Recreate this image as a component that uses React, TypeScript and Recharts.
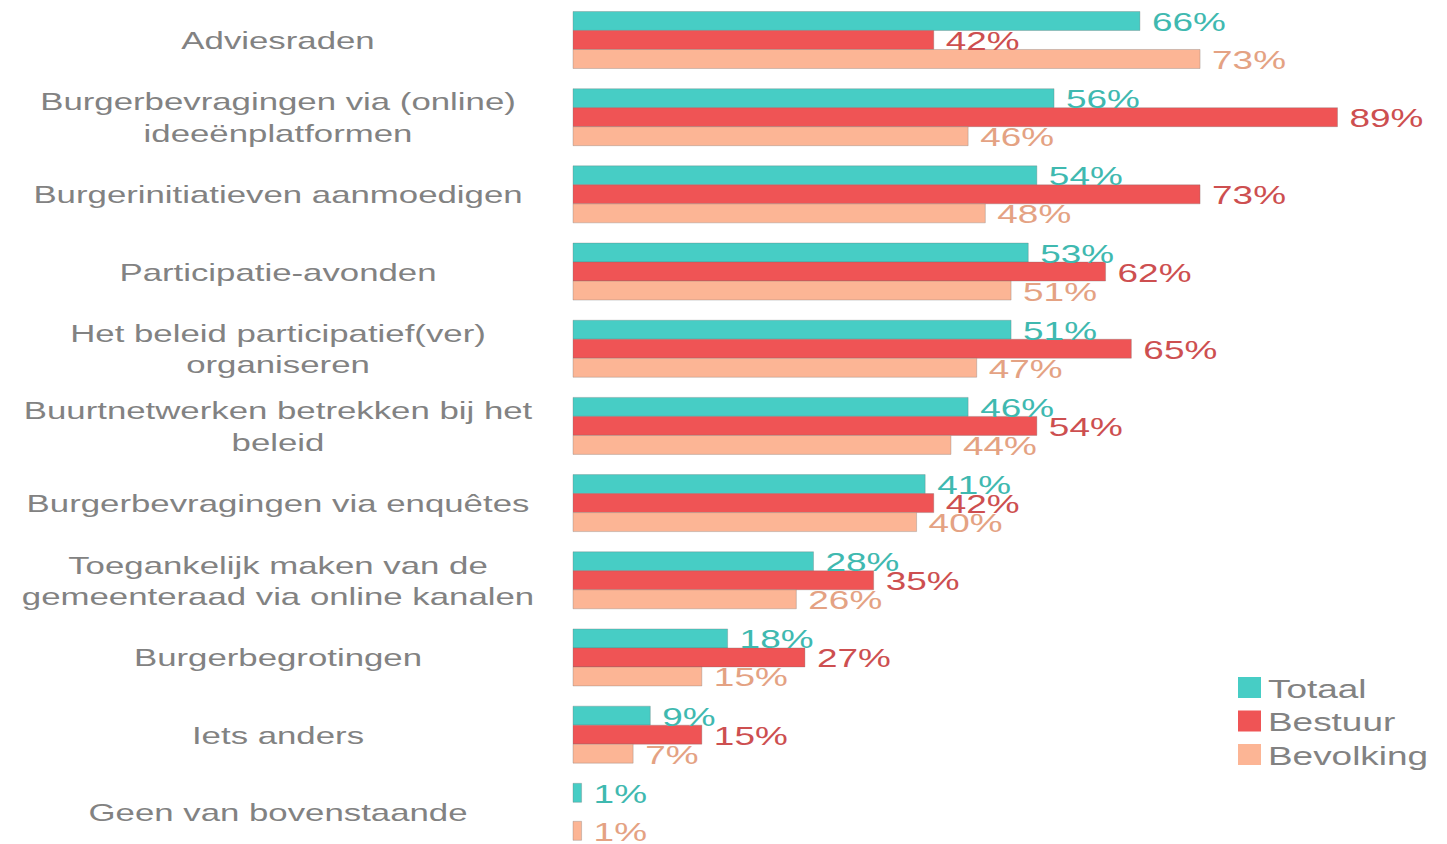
import React from "react";
import { BarChart, Bar, XAxis, YAxis, LabelList } from "recharts";

const categories = [
  "Adviesraden",
  "Burgerbevragingen via (online) ideeënplatformen",
  "Burgerinitiatieven aanmoedigen",
  "Participatie-avonden",
  "Het beleid participatief(ver) organiseren",
  "Buurtnetwerken betrekken bij het beleid",
  "Burgerbevragingen via enquêtes",
  "Toegankelijk maken van de gemeenteraad via online kanalen",
  "Burgerbegrotingen",
  "Iets anders",
  "Geen van bovenstaande",
];

const categoryLines: string[][] = [
  ["Adviesraden"],
  ["Burgerbevragingen via (online)", "ideeënplatformen"],
  ["Burgerinitiatieven aanmoedigen"],
  ["Participatie-avonden"],
  ["Het beleid participatief(ver)", "organiseren"],
  ["Buurtnetwerken betrekken bij het", "beleid"],
  ["Burgerbevragingen via enquêtes"],
  ["Toegankelijk maken van de", "gemeenteraad via online kanalen"],
  ["Burgerbegrotingen"],
  ["Iets anders"],
  ["Geen van bovenstaande"],
];

const totaal = [66, 56, 54, 53, 51, 46, 41, 28, 18, 9, 1];
const bestuur = [42, 89, 73, 62, 65, 54, 42, 35, 27, 15, 0];
const bevolking = [73, 46, 48, 51, 47, 44, 40, 26, 15, 7, 1];

const seriesNames = ["Totaal", "Bestuur", "Bevolking"];
const barColors = ["#47cdc5", "#ef5455", "#fcb595"];
const labelColors = ["#3fb9b0", "#cd4f50", "#e4a283"];

const data = categories.map((c, i) => ({
  name: c,
  Totaal: totaal[i],
  Bestuur: bestuur[i],
  Bevolking: bevolking[i],
}));

const FONT = "'Liberation Sans', Arial, sans-serif";
const SX = 1.45;
const TEXT_GRAY = "#828282";

const CategoryTick = (props: any) => {
  const { y, payload } = props;
  const idx = categories.indexOf(payload.value);
  const lines = categoryLines[idx] || [payload.value];
  const lh = 31.5;
  const start = -((lines.length - 1) * lh) / 2;
  return (
    <g transform={`translate(278, ${y}) scale(${SX}, 1)`}>
      {lines.map((l, i) => (
        <text
          key={i}
          x={0}
          y={start + i * lh}
          textAnchor="middle"
          dominantBaseline="central"
          fill={TEXT_GRAY}
          fontSize={24}
          fontFamily={FONT}
        >
          {l}
        </text>
      ))}
    </g>
  );
};

const makeLabel = (color: string) => (props: any) => {
  const { x, y, width, height, value } = props;
  if (!value) return null;
  const lx = Number(x) + Number(width) + 12;
  const ly = Number(y) + Number(height) / 2;
  return (
    <g transform={`translate(${lx}, ${ly}) scale(1.42, 1)`}>
      <text
        x={0}
        y={1}
        textAnchor="start"
        dominantBaseline="central"
        fill={color}
        fontSize={26}
        fontFamily={FONT}
      >
        {value}%
      </text>
    </g>
  );
};

const LegendBox = () => (
  <svg
    width={209}
    height={110}
    style={{ position: "absolute", left: 1238, top: 672 }}
  >
    {seriesNames.map((n, i) => (
      <g key={n}>
        <rect x={0} y={5 + i * 33.5} width={23} height={21} fill={barColors[i]} />
        <g transform={`translate(30, ${16 + i * 33.5}) scale(1.42, 1)`}>
          <text
            x={0}
            y={1}
            dominantBaseline="central"
            fill={TEXT_GRAY}
            fontSize={26}
            fontFamily={FONT}
          >
            {n}
          </text>
        </g>
      </g>
    ))}
  </svg>
);

export default function App() {
  return (
    <div
      style={{
        position: "absolute",
        left: 0,
        top: 0,
        width: 1447,
        height: 844,
        overflow: "hidden",
        background: "#ffffff",
      }}
    >
      <BarChart
        width={1447}
        height={851}
        data={data}
        layout="vertical"
        margin={{ top: 2, right: 15, bottom: 0, left: 0 }}
        barCategoryGap="12.3%"
        barGap={0}
      >
        <XAxis type="number" domain={[0, 100]} hide />
        <YAxis
          type="category"
          dataKey="name"
          width={573}
          axisLine={false}
          tickLine={false}
          tick={<CategoryTick />}
          interval={0}
        />
        {seriesNames.map((s, i) => (
          <Bar
            key={s}
            dataKey={s}
            fill={barColors[i]}
            stroke="rgba(110,110,110,0.3)"
            strokeWidth={1}
            isAnimationActive={false}
          >
            <LabelList dataKey={s} content={makeLabel(labelColors[i])} />
          </Bar>
        ))}
      </BarChart>
      <LegendBox />
    </div>
  );
}
